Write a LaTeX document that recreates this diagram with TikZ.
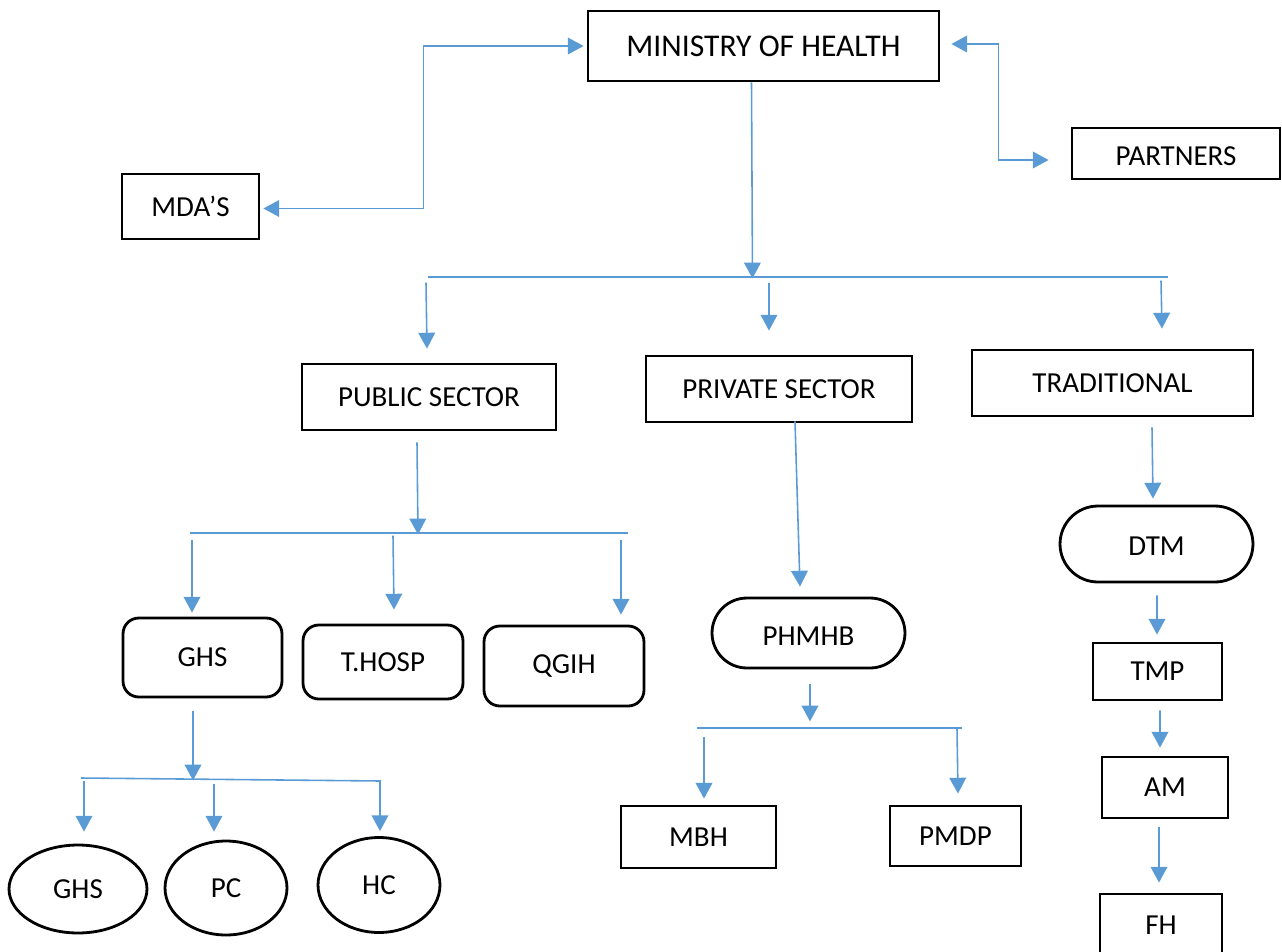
\documentclass[tikz,border=0pt]{standalone}
\usepackage{fontspec}
\setmainfont{Carlito}
\usetikzlibrary{arrows.meta, shapes.geometric, shapes.misc, calc}
\definecolor{linkblue}{HTML}{5B9BD5}

\begin{document}
\begin{tikzpicture}[x=0.02cm, y=-0.02cm, >={Triangle[length=9pt, width=9.5pt]},
  box/.style={draw, line width=1.6pt, inner sep=0pt, font=\fontsize{16.5}{19}\selectfont},
  rbox/.style={box, rounded corners=9pt},
  pill/.style={box, rounded rectangle},
  oval/.style={box, ellipse},
  link/.style={linkblue, line width=0.9pt}]
  \useasboundingbox (0,0) rectangle (1282,951);

  % Ministry and its partners
  \node[box, minimum width=7.02cm, minimum height=1.4cm, font=\fontsize{18}{21}\selectfont] (moh) at (763.5,46) {MINISTRY OF HEALTH};
  \node[box, minimum width=2.74cm, minimum height=1.3cm] (mda) at (190.5,206.5) {MDA’S};
  \node[box, minimum width=4.16cm, minimum height=1.02cm, text height=14pt] (partners) at (1176,153.5) {PARTNERS};

  % Sectors
  \node[box, minimum width=5.08cm, minimum height=1.32cm] (pub) at (429,397) {PUBLIC SECTOR};
  \node[box, minimum width=5.32cm, minimum height=1.32cm] (priv) at (779,389) {PRIVATE SECTOR};
  \node[box, minimum width=5.62cm, minimum height=1.32cm] (trad) at (1112.5,383) {TRADITIONAL};

  % Public branch
  \node[rbox, minimum width=3.18cm, minimum height=1.58cm] (ghs) at (202.5,657.5) {GHS};
  \node[rbox, minimum width=3.2cm, minimum height=1.48cm] (thosp) at (383,662) {T.HOSP};
  \node[rbox, minimum width=3.2cm, minimum height=1.6cm] (qgih) at (564,666) {QGIH};
  \node[oval, minimum width=2.76cm, minimum height=1.76cm] (ghsb) at (78,889) {GHS};
  \node[oval, minimum width=2.44cm, minimum height=1.88cm] (pc) at (226,888) {PC};
  \node[oval, minimum width=2.44cm, minimum height=1.9cm] (hc) at (379,885) {HC};

  % Private branch
  \node[pill, minimum width=3.86cm, minimum height=1.4cm, text height=14pt] (phmhb) at (808.5,633) {PHMHB};
  \node[box, minimum width=3.1cm, minimum height=1.24cm] (mbh) at (698.5,837) {MBH};
  \node[box, minimum width=2.62cm, minimum height=1.2cm] (pmdp) at (955.5,836) {PMDP};

  % Traditional branch
  \node[pill, minimum width=3.86cm, minimum height=1.52cm, text height=13.5pt] (dtm) at (1156.5,544) {DTM};
  \node[box, minimum width=2.58cm, minimum height=1.14cm] (tmp) at (1157.5,671.5) {TMP};
  \node[box, minimum width=2.52cm, minimum height=1.22cm] (am) at (1165,787.5) {AM};
  \node[box, minimum width=2.44cm, minimum height=1.24cm] (fh) at (1161,925) {FH};

  % Bars
  \coordinate (tbarl) at (428,277);
  \coordinate (tbarr) at (1168,277);
  \coordinate (pbarl) at (190,533);
  \coordinate (pbarr) at (628,533);
  \coordinate (gbarl) at (81,778);
  \coordinate (gbarr) at (381,781);
  \coordinate (hbarl) at (697,728);
  \coordinate (hbarr) at (962,728);
  \draw[link] (tbarl) -- (tbarr);
  \draw[link] (pbarl) -- (pbarr);
  \draw[link] (gbarl) -- (gbarr);
  \draw[link] (hbarl) -- (hbarr);

  % Ministry links
  \draw[link, <->] ($(mda.east)+(3,2)$) -| ($(moh.west)+(-163,0)$) -- ($(moh.west)+(-3,0)$);
  \draw[link, <->] ($(moh.east)+(11,-2)$) -| ($(partners.west)+(-72,6.5)$) -- ($(partners.west)+(-22,6.5)$);
  \draw[link, ->] ($(moh.south)+(-12,0)$) -- ($(moh.south)+(-11,196)$);

  % Into the sectors
  \draw[link, ->] ($(pub.north)+(-3,-80)$) -- ($(pub.north)+(-2,-14)$);
  \draw[link, ->] ($(priv.north)+(-10,-72)$) -- ($(priv.north)+(-10,-24)$);
  \draw[link, ->] ($(trad.north)+(48.5,-68)$) -- ($(trad.north)+(49.5,-20)$);

  % Public sector
  \draw[link, ->] ($(pub.south)+(-12,11)$) -- ($(pub.south)+(-11,103)$);
  \draw[link, ->] ($(ghs.north)+(-10.5,-77)$) -- ($(ghs.north)+(-10.5,-4)$);
  \draw[link, ->] ($(thosp.north)+(10,-88)$) -- ($(thosp.north)+(11,-14)$);
  \draw[link, ->] ($(qgih.north)+(57,-85)$) -- ($(qgih.north)+(57,-10)$);
  \draw[link, ->] ($(ghs.south)+(-9.5,13)$) -- ($(ghs.south)+(-9.5,82)$);
  \draw[link, ->] ($(ghsb.north)+(6,-63)$) -- ($(ghsb.north)+(6,-12)$);
  \draw[link, ->] ($(pc.north)+(-12,-56)$) -- ($(pc.north)+(-12,-8)$);
  \draw[link, ->] ($(hc.north)+(1,-56)$) -- ($(hc.north)+(1,-5)$);

  % Private sector
  \draw[link, ->] ($(priv.south)+(16,-2)$) -- ($(phmhb.north)+(-8.5,-10)$);
  \draw[link, ->] ($(phmhb.south)+(1.5,15)$) -- ($(phmhb.south)+(1.5,52)$);
  \draw[link, ->] ($(mbh.north)+(5.5,-68)$) -- ($(mbh.north)+(5.5,-6)$);
  \draw[link, ->] ($(pmdp.north)+(1.5,-76)$) -- ($(pmdp.north)+(2.5,-11)$);

  % Traditional
  \draw[link, ->] ($(trad.south)+(39.5,10)$) -- ($(dtm.north)+(-3.5,-6)$);
  \draw[link, ->] ($(dtm.south)+(0.5,12)$) -- ($(tmp.north)+(-0.5,-7)$);
  \draw[link, ->] ($(tmp.south)+(2.5,9)$) -- ($(am.north)+(-5,-8)$);
  \draw[link, ->] ($(am.south)+(-6,8)$) -- ($(fh.north)+(-2,-10)$);
\end{tikzpicture}
\end{document}
